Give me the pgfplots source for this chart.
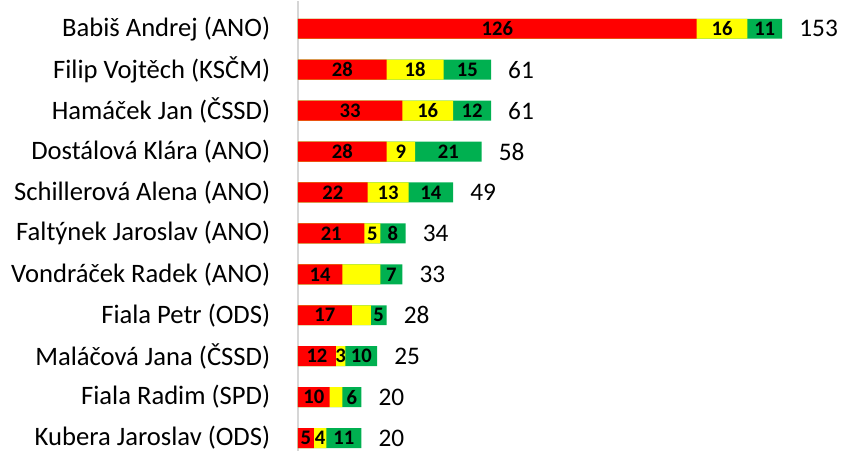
\documentclass[border=0pt]{standalone}
\usepackage{pgfplots}
\pgfplotsset{compat=1.18}
\usepackage{pgfplotstable}
\usepackage{fontspec}
\setmainfont{Carlito}

\definecolor{cred}{RGB}{255,0,0}
\definecolor{cyel}{RGB}{255,255,0}
\definecolor{cgrn}{RGB}{0,176,80}

% pos: 0 = top row; yl = shown label of the yellow part ({} = none)
\pgfplotstableread{
pos red yel yl grn tot
0 126 16 16 11 153
1 28 18 18 15 61
2 33 16 16 12 61
3 28 9 9 21 58
4 22 13 13 14 49
5 21 5 5 8 34
6 14 12 {} 7 33
7 17 6 {} 5 28
8 12 3 3 10 25
9 10 4 {} 6 20
10 5 4 4 11 20
}\data

\begin{document}
\begin{tikzpicture}
\begin{axis}[
  scale only axis, width=408pt, height=338.25pt,
  xmin=0, xmax=171.6, ymin=-0.68, ymax=10.32, y dir=reverse,
  axis x line=bottom, x axis line style={draw=none, -},
  xtick=\empty,
  axis y line*=left,
  y axis line style={draw=black!16, line width=1.4pt, -},
  ytick={0,...,10},
  yticklabels={Babiš Andrej (ANO),Filip Vojtěch (KSČM),Hamáček Jan (ČSSD),
    Dostálová Klára (ANO),Schillerová Alena (ANO),Faltýnek Jaroslav (ANO),
    Vondráček Radek (ANO),Fiala Petr (ODS),Maláčová Jana (ČSSD),
    Fiala Radim (SPD),Kubera Jaroslav (ODS)},
  ytick style={draw=none},
  yticklabel style={font=\fontsize{20}{22}\selectfont, inner xsep=8.4pt,
    xshift=-12.3pt},
  point meta=explicit symbolic,
  bars/.style={xbar, bar width=15pt, bar shift=0pt, draw=none, fill=#1},
  lab/.style={only marks, mark=none, nodes near coords,
    nodes near coords style={anchor=center, inner sep=0pt,
      font=\bfseries\fontsize{15.5}{17}\selectfont, text=black}},
]
% segments drawn as overlapping cumulative bars
\addplot[bars=cgrn] table[x=tot, y=pos] {\data};
\addplot[bars=cyel] table[x expr=\thisrow{red}+\thisrow{yel}, y=pos] {\data};
\addplot[bars=cred] table[x=red, y=pos] {\data};
% labels in the middle of each segment
\addplot[lab] table[x expr=\thisrow{red}/2, y=pos, meta=red] {\data};
\addplot[lab] table[x expr=\thisrow{red}+\thisrow{yel}/2, y=pos, meta=yl] {\data};
\addplot[lab] table[x expr=\thisrow{tot}-\thisrow{grn}/2, y=pos, meta=grn] {\data};
% totals
\addplot[only marks, mark=none, nodes near coords,
  nodes near coords style={anchor=west, inner sep=0pt, xshift=12.75pt,
    font=\fontsize{19}{21}\selectfont, text=black}]
  table[x=tot, y=pos, meta=tot] {\data};
\end{axis}
\end{tikzpicture}
\end{document}
